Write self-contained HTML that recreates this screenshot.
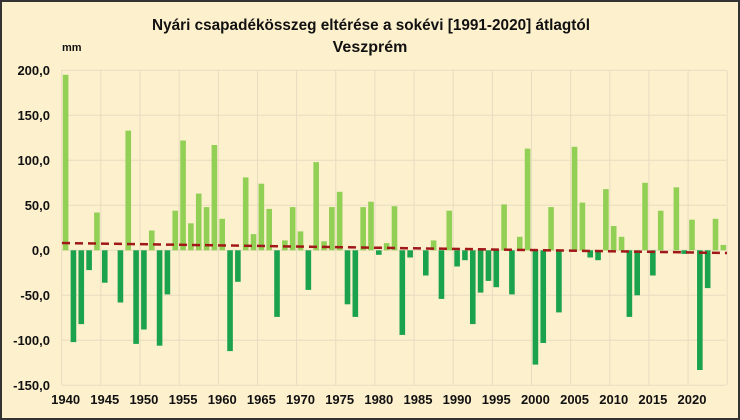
<!DOCTYPE html>
<html><head><meta charset="utf-8"><style>
html,body{margin:0;padding:0;background:#fff}
svg{display:block;font-family:"Liberation Sans",sans-serif;font-weight:bold}
</style></head><body>
<svg id="c" width="740" height="420" xmlns="http://www.w3.org/2000/svg">
<rect x="1" y="1" width="738" height="418" fill="#fdf0cd" stroke="#333" stroke-width="2"/>
<text x="152" y="30" font-size="16" textLength="438" lengthAdjust="spacingAndGlyphs" fill="#111">Nyári csapadékösszeg eltérése a sokévi [1991-2020] átlagtól</text>
<text x="370" y="52" font-size="16" text-anchor="middle" fill="#111">Veszprém</text>
<text x="62" y="51" font-size="11" fill="#111">mm</text>
<g id="grid" stroke="#e6dcc0" stroke-width="1"></g>
<g id="bars"></g>
<line x1="62" y1="243" x2="727" y2="253" stroke="#a01818" stroke-width="2.5" stroke-dasharray="8,5"/>
<g id="lab" font-size="13" fill="#111"></g>
</svg>
<script>
var v=[195,-102,-82,-22,42,-36,0,-58,133,-104,-88,22,-106,-49,44,122,30,63,48,117,35,-112,-35,81,18,74,46,-74,11,48,21,-44,98,10,48,65,-60,-74,48,54,-5,8,49,-94,-8,0,-28,11,-54,44,-18,-11,-82,-47,-34,-41,51,-49,15,113,-127,-103,48,-69,0,115,53,-8,-11,68,27,15,-74,-50,75,-28,44,0,70,-4,34,-133,-42,35,6];
var ns="http://www.w3.org/2000/svg";
function el(t,a,p,txt){var e=document.createElementNS(ns,t);for(var k in a)e.setAttribute(k,a[k]);if(txt!=null)e.textContent=txt;document.getElementById(p).appendChild(e);}
var L=61.7,W=7.83,Z=250.3,S=0.9;
for(var g=200;g>=-150;g-=50){var y=Z-g*S;el('line',{x1:L,x2:726,y1:y,y2:y},'grid');
el('text',{x:50,y:y+4.5,'text-anchor':'end'},'lab',g.toFixed(1).replace('.',','));}
for(var i=0;i<=85;i+=5){var x=L+i*W;el('line',{x1:x,x2:x,y1:70,y2:385},'grid');}
for(var i=0;i<85;i++){var val=v[i];if(!val)continue;var cx=L+W*(i+0.5);var h=Math.abs(val)*S;
el('rect',{x:cx-2.8,width:5.6,y:val>0?Z-h:Z,height:h,fill:val>0?'#92cf55':'#1ba24c'},'bars');}
for(var yr=1940;yr<=2020;yr+=5){var i=yr-1940;el('text',{x:L+W*(i+0.5),y:404,'text-anchor':'middle'},'lab',String(yr));}
</script>
</body></html>
